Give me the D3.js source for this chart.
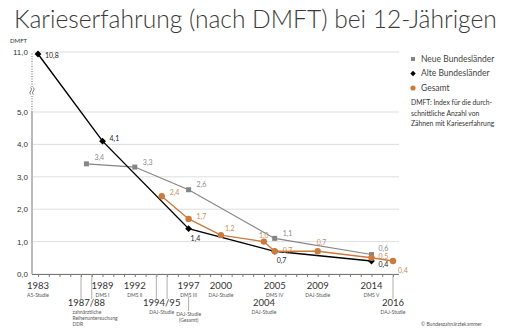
<!DOCTYPE html>
<html>
<head>
<meta charset="utf-8">
<script src="https://cdn.jsdelivr.net/npm/d3@7"></script>
<style>
  body { margin: 0; background: #fff; }
  svg { display: block; font-family: Lato, "Open Sans", sans-serif; }
</style>
</head>
<body>
<div id="chart"></div>
<script>
let w = 510;
let h = 331;

// data
const neueYears = [1987.5, 1992, 1997, 2005, 2014];
const neueValues = [3.4, 3.3, 2.6, 1.1, 0.6];
const alteYears = [1983, 1989, 1997, 2005, 2014];
const alteValues = [10.8, 4.1, 1.4, 0.7, 0.4];
const gesamtYears = [1994.5, 1997, 2000, 2004, 2005, 2009, 2014, 2016];
const gesamtValues = [2.4, 1.7, 1.2, 1.0, 0.7, 0.7, 0.5, 0.4];

const yTicks = [0, 1, 2, 3, 4, 5, 11];
const topYears = [1983, 1989, 1992, 1997, 2000, 2005, 2009, 2014];
const topStudies = ["A5-Studie", "DMS I", "DMS II", "DMS III", "DAJ-Studie", "DMS IV", "DAJ-Studie", "DMS V"];
const lowYears = [1987.5, 1994.5, 1997, 2004, 2016];
const lowLabels = ["1987/88", "1994/95", "", "2004", "2016"];
const lowStudies = [["zahnärztliche", "Reihenuntersuchung", "DDR"], ["DAJ-Studie"], ["DAJ-Studie", "(Gesamt)"], ["DAJ-Studie"], ["DAJ-Studie"]];
const legendNames = ["Neue Bundesländer", "Alte Bundesländer", "Gesamt"];
const noteLines = ["DMFT: Index für die durch-", "schnittliche Anzahl von", "Zähnen mit Karieserfahrung"];

const grey = "#858585", orange = "#cd7a3e", orangeText = "#c98d5a";

let svg = d3.select("#chart").append("svg")
    .attr("width", w)
    .attr("height", h);

// scales
let x = d3.scaleLinear().domain([1983, 2016]).range([38, 393]);
let y = d3.scaleLinear().domain([0, 5, 11]).range([274, 112, 52]);

// title, fitted to the width of the original
let title = svg.append("text")
    .attr("x", 14)
    .attr("y", 28)
    .style("font-size", "24px")
    .style("font-weight", 300)
    .attr("fill", "#3a3a3a")
    .text("Karieserfahrung (nach DMFT) bei 12-Jährigen");
let tw = title.node().getComputedTextLength();
title.style("font-size", (24 * 483 / tw) + "px");

// grid
svg.append("g").selectAll("line")
    .data(yTicks)
    .enter()
    .append("line")
    .attr("x1", 33).attr("x2", 399)
    .attr("y1", d => y(d)).attr("y2", d => y(d))
    .attr("stroke", "#d6d6d6")
    .attr("stroke-width", 0.8);

// y axis
let yAxis = d3.axisLeft(y).tickValues(yTicks).tickSize(0).tickPadding(4)
    .tickFormat(d => d3.format(".1f")(d).replace(".", ","));
let gy = svg.append("g").attr("transform", "translate(32,0)").call(yAxis);
gy.select(".domain").remove();
gy.selectAll("text").style("font-size", "8px").attr("fill", "#333");

svg.append("line")
    .attr("x1", 32).attr("x2", 32)
    .attr("y1", y(0)).attr("y2", y(5))
    .attr("stroke", "#777");
svg.append("line")
    .attr("x1", 32).attr("x2", 32)
    .attr("y1", y(5)).attr("y2", y(11))
    .attr("stroke", "#666")
    .attr("stroke-dasharray", "1,1.5");

// axis break mark
let brk = svg.append("g").attr("transform", "translate(32,91)");
brk.append("rect").attr("x", -3).attr("y", -4).attr("width", 6).attr("height", 8).attr("fill", "#fff");
[-1.3, 1.3].forEach(dx => {
    brk.append("path")
        .attr("d", "M" + dx + ",-3.5q1.8,1.75 0,3.5q-1.8,1.75 0,3.5")
        .attr("fill", "none")
        .attr("stroke", "#555")
        .attr("stroke-width", 0.8);
});

svg.append("text")
    .attr("x", 10).attr("y", 43)
    .style("font-size", "6px")
    .attr("fill", "#333")
    .text("DMFT");

// x axis with a tick per year
let xAxis = d3.axisBottom(x).tickValues(d3.range(1983, 2017)).tickSize(3).tickFormat("");
let gx = svg.append("g").attr("transform", "translate(0," + y(0) + ")").call(xAxis);
gx.select(".domain").attr("d", "M32,0.5H399");
gx.selectAll("path, line").attr("stroke", "#777");

// leader lines down to the lower row
svg.append("g").selectAll("line")
    .data([1987, 1988, 1994, 1995, 2016])
    .enter()
    .append("line")
    .attr("x1", d => x(d)).attr("x2", d => x(d))
    .attr("y1", y(0)).attr("y2", 299)
    .attr("stroke", "#999")
    .attr("stroke-width", 0.8);
svg.append("line")
    .attr("x1", x(1997)).attr("x2", x(1997))
    .attr("y1", 297).attr("y2", 311)
    .attr("stroke", "#999")
    .attr("stroke-width", 0.8);

// upper row of years
let upperRow = svg.append("g").selectAll("g")
    .data(topYears)
    .enter()
    .append("g")
    .attr("transform", d => "translate(" + x(d) + ",0)");
upperRow.append("text")
    .attr("y", 289)
    .attr("text-anchor", "middle")
    .style("font-size", "9.5px")
    .attr("fill", "#333")
    .text(d => d);
upperRow.append("text")
    .attr("y", 297)
    .attr("text-anchor", "middle")
    .style("font-size", "5px")
    .attr("fill", "#555")
    .text((d, i) => topStudies[i]);

// lower row of years
let lowerRow = svg.append("g").selectAll("g")
    .data(lowYears)
    .enter()
    .append("g")
    .attr("transform", d => "translate(" + x(d) + ",0)");
lowerRow.append("text")
    .attr("y", 306)
    .attr("text-anchor", "middle")
    .style("font-size", "9.5px")
    .attr("fill", "#333")
    .text((d, i) => lowLabels[i]);
lowerRow.each(function(d, i) {
    let g = d3.select(this);
    let first = i == 0;
    let start = lowLabels[i] == "" ? 316 : 314;
    lowStudies[i].forEach((s, k) => {
        g.append("text")
            .attr("x", first ? -14 : 0)
            .attr("y", start + k * 6)
            .attr("text-anchor", first ? "start" : "middle")
            .style("font-size", "5px")
            .attr("fill", "#555")
            .text(s);
    });
});

// series
let series = [
    {name: "neue", xs: neueYears, vs: neueValues, color: grey, text: "#8a8a8a", width: 1.1,
     offs: [[8, -6], [8, -5], [8, -5], [8, -5], [7, -6]]},
    {name: "alte", xs: alteYears, vs: alteValues, color: "#000", text: "#222", width: 1.4,
     offs: [[7, 2], [7, -3], [2, 10], [2, 9], [7, 4]]},
    {name: "gesamt", xs: gesamtYears, vs: gesamtValues, color: orange, text: orangeText, width: 1.4,
     offs: [[8, -4], [8, -2], [4, -7], [-5, -6], [8, -1], [-1, -9], [7, -1], [5, 10]]}
];

let line = d3.line()
    .x(d => x(d[0]))
    .y(d => y(d[1]));

series.forEach(s => {
    let pts = s.xs.map((d, i) => [d, s.vs[i]]);
    svg.append("path")
        .datum(pts)
        .attr("d", line)
        .attr("fill", "none")
        .attr("stroke", s.color)
        .attr("stroke-width", s.width);
});

function marker(sel, name) {
    if (name == "neue") {
        sel.append("rect").attr("x", -2.5).attr("y", -2.5).attr("width", 5).attr("height", 5)
            .attr("fill", grey);
    } else if (name == "alte") {
        sel.append("path").attr("d", "M0,-3.4L3.4,0L0,3.4L-3.4,0Z").attr("fill", "#000");
    } else {
        sel.append("circle").attr("r", 3.2).attr("fill", orange);
    }
}

series.forEach(s => {
    let pts = s.xs.map((d, i) => [d, s.vs[i]]);
    let g = svg.append("g").selectAll("g")
        .data(pts)
        .enter()
        .append("g")
        .attr("transform", d => "translate(" + x(d[0]) + "," + y(d[1]) + ")");
    g.each(function() { marker(d3.select(this), s.name); });
    g.append("text")
        .attr("x", (d, i) => s.offs[i][0])
        .attr("y", (d, i) => s.offs[i][1])
        .attr("dy", "0.35em")
        .style("font-size", "7px")
        .attr("fill", s.text)
        .text(d => d3.format(".1f")(d[1]).replace(".", ","));
});

// legend
let legend = svg.append("g").selectAll("g")
    .data(legendNames)
    .enter()
    .append("g")
    .attr("transform", (d, i) => "translate(413," + (59 + i * 14.5) + ")");
legend.each(function(d, i) { marker(d3.select(this), ["neue", "alte", "gesamt"][i]); });
legend.select("rect").attr("transform", "scale(0.8)");
legend.select("path").attr("transform", "scale(0.8)");
legend.select("circle").attr("r", 2.6);
legend.append("text")
    .attr("x", 8)
    .attr("dy", "0.35em")
    .style("font-size", "8.5px")
    .attr("fill", "#444")
    .text(d => d);

svg.append("g").selectAll("text")
    .data(noteLines)
    .enter()
    .append("text")
    .attr("x", 411)
    .attr("y", (d, i) => 105 + i * 10.5)
    .style("font-size", "6.8px")
    .attr("fill", "#333")
    .text(d => d);

svg.append("text")
    .attr("x", 421).attr("y", 326)
    .style("font-size", "5px")
    .attr("fill", "#555")
    .text("© Bundeszahnärztekammer");
</script>
</body>
</html>
